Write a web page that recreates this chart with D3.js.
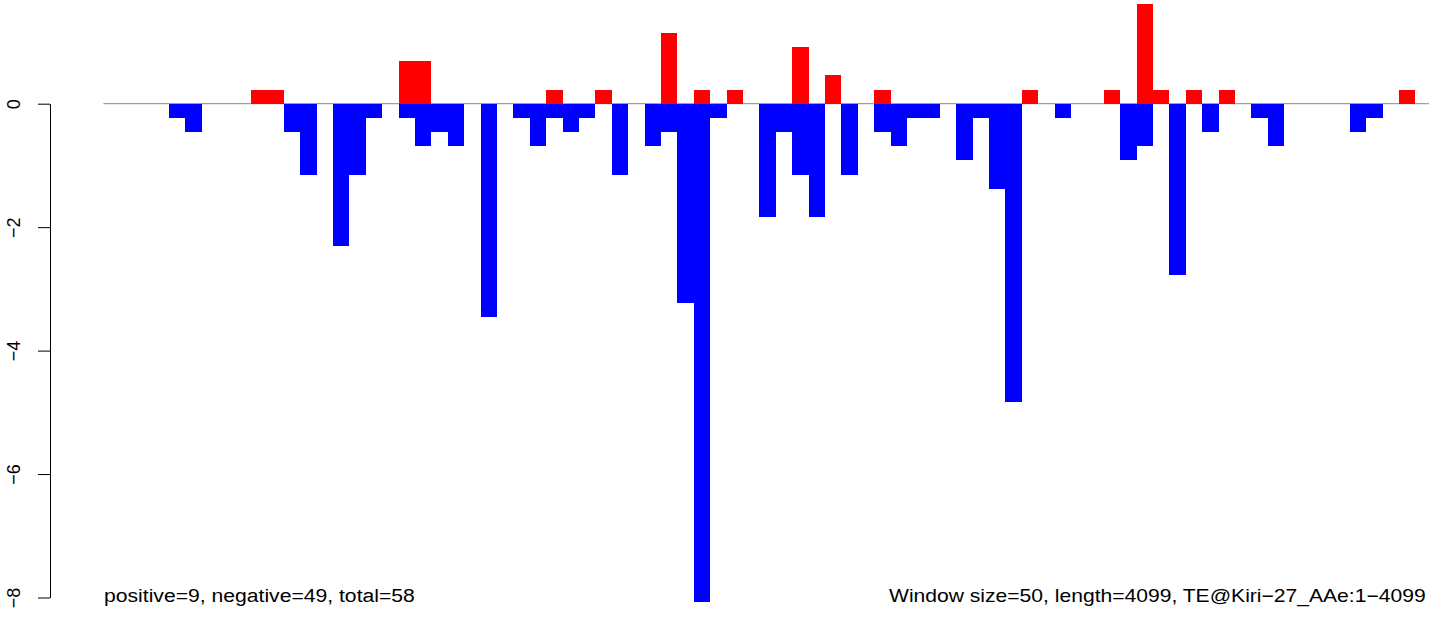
<!DOCTYPE html>
<html>
<head>
<meta charset="utf-8">
<script src="https://cdn.jsdelivr.net/npm/d3@7"></script>
<style>
  html, body { margin: 0; padding: 0; background: #fff; overflow: hidden; }
  svg { display: block; font-family: "Liberation Sans", Arial, Helvetica, sans-serif; }
</style>
</head>
<body>
<script>
// ---- data ----
const windowSize = 50;
const seqLength = 4099;
// window index -> positive value
const posWindows = [9, 10, 18, 19, 27, 30, 34, 36, 38, 42, 44, 47, 56, 61, 63, 64, 66, 68, 79];
const posValues  = [0.23, 0.23, 0.69, 0.69, 0.23, 0.23, 1.15, 0.23, 0.23, 0.92, 0.46, 0.23, 0.23, 0.23, 1.61, 0.23, 0.23, 0.23, 0.23];
// window index -> negative value
const negWindows = [4, 5, 11, 12, 14, 15, 16, 18, 19, 20, 21, 23, 25, 26, 27, 28, 29, 31, 33, 34, 35, 36, 37,
                    40, 41, 42, 43, 45, 47, 48, 49, 50, 52, 53, 54, 55, 58, 62, 63, 65, 67, 70, 71, 76, 77];
const negValues  = [-0.23, -0.46, -0.46, -1.15, -2.31, -1.15, -0.23, -0.23, -0.69, -0.46, -0.69, -3.46, -0.23, -0.69, -0.23, -0.46, -0.23, -1.15, -0.69, -0.46, -3.23, -8.07, -0.23,
                    -1.84, -0.46, -1.15, -1.84, -1.15, -0.46, -0.69, -0.23, -0.23, -0.92, -0.23, -1.38, -4.84, -0.23, -0.92, -0.69, -2.77, -0.46, -0.23, -0.69, -0.46, -0.23];
const yTicks = [0, -2, -4, -6, -8];
const leftLabel = "positive=9, negative=49, total=58";
const rightLabel = "Window size=50, length=4099, TE@Kiri\u221227_AAe:1\u22124099";

// ---- layout ----
const W = 1429, H = 623;
const svg = d3.select("body").append("svg").attr("width", W).attr("height", H);

const x = d3.scaleLinear().domain([0, seqLength]).range([103.4, 103.4 + seqLength * 0.328]);
const y = d3.scaleLinear().domain([-8, 0]).range([597.5, 103.7]);

// zero line
svg.append("line")
  .attr("x1", x(0)).attr("x2", W)
  .attr("y1", y(0)).attr("y2", y(0))
  .attr("stroke", "#a0a0a0").attr("stroke-width", 1.2);

const pos = posWindows.map((w, i) => ({ w, v: posValues[i] }));
const neg = negWindows.map((w, i) => ({ w, v: negValues[i] }));

svg.append("g").selectAll("rect").data(pos).join("rect")
  .attr("x", d => x(d.w * windowSize))
  .attr("width", d => x((d.w + 1) * windowSize) - x(d.w * windowSize))
  .attr("y", d => y(d.v))
  .attr("height", d => y(0) - y(d.v))
  .attr("fill", "#ff0000")
  .attr("shape-rendering", "crispEdges");

svg.append("g").selectAll("rect").data(neg).join("rect")
  .attr("x", d => x(d.w * windowSize))
  .attr("width", d => x((d.w + 1) * windowSize) - x(d.w * windowSize))
  .attr("y", y(0))
  .attr("height", d => y(d.v) - y(0))
  .attr("fill", "#0000ff")
  .attr("shape-rendering", "crispEdges");

// y axis
const yAxis = d3.axisLeft(y).tickValues(yTicks).tickSize(12).tickSizeOuter(0)
  .tickFormat(d => d3.format("d")(d).replace("-", "\u2212"));
const gy = svg.append("g").attr("transform", "translate(50,0)").call(yAxis);
gy.select(".domain").attr("stroke", "#000").attr("stroke-width", 1);
gy.selectAll(".tick line").attr("stroke", "#000").attr("stroke-width", 1);
gy.selectAll(".tick text")
  .attr("x", null).attr("dy", null)
  .attr("transform", "translate(-30.5,0) scale(1.06,1) rotate(-90)")
  .attr("text-anchor", "middle")
  .attr("font-size", 18)
  .attr("font-family", "Liberation Sans, Arial, sans-serif")
  .attr("fill", "#000");

// bottom annotations (horizontally stretched like the reference)
function stretchedText(label, x0, yBase, targetWidth) {
  const t = svg.append("text").attr("x", 0).attr("y", 0)
    .attr("font-size", 18).attr("fill", "#000").text(label);
  const natural = t.node().getComputedTextLength();
  t.attr("transform", `translate(${x0},${yBase}) scale(${targetWidth / natural},1)`);
}
stretchedText(leftLabel, 104, 601.5, 311);
stretchedText(rightLabel, 889, 601.5, 537);
</script>
</body>
</html>
